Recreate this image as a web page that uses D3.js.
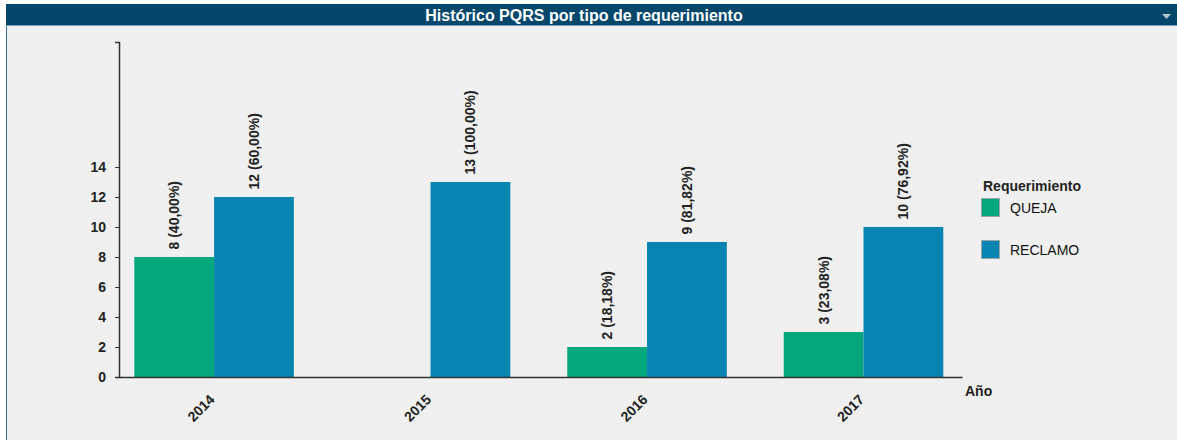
<!DOCTYPE html>
<html>
<head>
<meta charset="utf-8">
<script src="https://cdn.jsdelivr.net/npm/d3@7"></script>
<style>
  html, body { margin: 0; padding: 0; background: #ffffff; }
  svg { display: block; font-family: 'Liberation Sans', Arial, sans-serif; }
</style>
</head>
<body>
<div id="chart"></div>
<script>
// chart data
const years = ['2014', '2015', '2016', '2017'];
const seriesNames = ['QUEJA', 'RECLAMO'];
const quejaValues = [8, 0, 2, 3];
const reclamoValues = [12, 13, 9, 10];
const yTicks = [0, 2, 4, 6, 8, 10, 12, 14];
const yMax = 22.33;

const colors = { QUEJA: '#05a87d', RECLAMO: '#0884b3' };
const width = 1177;
const height = 440;

const svg = d3.select('#chart')
  .append('svg')
  .attr('width', width)
  .attr('height', height);

// panel + header
svg.append('rect')
  .attr('x', 6).attr('y', 25)
  .attr('width', width - 6).attr('height', height - 25)
  .attr('fill', '#f0f0f0');
svg.append('line')
  .attr('x1', 6.5).attr('x2', 6.5)
  .attr('y1', 4).attr('y2', height)
  .attr('stroke', '#2f6f99').attr('stroke-width', 1);
svg.append('rect')
  .attr('x', 6).attr('y', 4)
  .attr('width', width - 6).attr('height', 21)
  .attr('fill', '#03476b');
svg.append('line')
  .attr('x1', 6).attr('x2', width)
  .attr('y1', 25.5).attr('y2', 25.5)
  .attr('stroke', '#6f9cba').attr('stroke-width', 1);
svg.append('text')
  .attr('x', 584).attr('y', 15)
  .attr('text-anchor', 'middle')
  .attr('dominant-baseline', 'central')
  .attr('fill', '#ffffff')
  .attr('font-size', 16)
  .attr('font-weight', 700)
  .text('Histórico PQRS por tipo de requerimiento');
svg.append('path')
  .attr('d', 'M1162,14 L1171,14 L1166.5,19 Z')
  .attr('fill', '#b7c7d3');

// scales
const margin = { left: 119, right: 962, top: 42, bottom: 377 };
const x0 = d3.scaleBand()
  .domain(years)
  .range([margin.left, margin.right])
  .paddingInner(0.263)
  .paddingOuter(0.0786)
  .align(0.45);
const x1 = d3.scaleBand()
  .domain(seriesNames)
  .range([0, x0.bandwidth()]);
const y = d3.scaleLinear()
  .domain([0, yMax])
  .range([margin.bottom, margin.top]);

const rows = years.map((yr, i) => ({
  year: yr,
  values: [
    { key: 'QUEJA', value: quejaValues[i], total: quejaValues[i] + reclamoValues[i] },
    { key: 'RECLAMO', value: reclamoValues[i], total: quejaValues[i] + reclamoValues[i] }
  ]
}));

const fmtPct = v => v.toFixed(2).replace('.', ',') + '%';

// bars
const groups = svg.append('g').attr('class', 'bars')
  .selectAll('g')
  .data(rows)
  .join('g')
  .attr('transform', d => `translate(${x0(d.year)},0)`);

groups.selectAll('rect')
  .data(d => d.values.filter(v => v.value > 0))
  .join('rect')
  .attr('x', d => x1(d.key))
  .attr('y', d => y(d.value))
  .attr('width', x1.bandwidth())
  .attr('height', d => y(0) - y(d.value))
  .attr('fill', d => colors[d.key]);

groups.selectAll('text')
  .data(d => d.values.filter(v => v.value > 0))
  .join('text')
  .attr('transform', d => `translate(${x1(d.key) + x1.bandwidth() / 2},${y(d.value) - 7.5}) rotate(-90)`)
  .attr('dominant-baseline', 'central')
  .attr('font-size', 14)
  .attr('font-weight', 700)
  .attr('fill', '#222')
  .text(d => `${d.value} (${fmtPct(d.value / d.total * 100)})`);

// y axis
const yAxis = svg.append('g')
  .attr('transform', `translate(${margin.left},0)`)
  .call(d3.axisLeft(y).tickValues(yTicks).tickSize(4).tickPadding(9));
yAxis.select('.domain').attr('stroke', '#333').attr('stroke-width', 1.5);
yAxis.selectAll('.tick line').attr('stroke', '#333');
yAxis.selectAll('.tick text')
  .attr('font-size', 14)
  .attr('font-weight', 700)
  .attr('fill', '#222')
  .attr('font-family', "'Liberation Sans', Arial, sans-serif");

// x axis
const xAxis = svg.append('g')
  .attr('transform', `translate(0,${margin.bottom})`)
  .call(d3.axisBottom(x0).tickSize(0).tickSizeOuter(0));
xAxis.select('.domain').attr('stroke', '#333').attr('stroke-width', 1.5);
xAxis.selectAll('.tick text')
  .attr('font-size', 14)
  .attr('font-weight', 700)
  .attr('fill', '#222')
  .attr('font-family', "'Liberation Sans', Arial, sans-serif")
  .attr('text-anchor', 'end')
  .attr('dy', null)
  .attr('y', 0)
  .attr('transform', 'translate(-2,20) rotate(-45)')
  .attr('dominant-baseline', 'central');

svg.append('text')
  .attr('x', 965).attr('y', 391)
  .attr('dominant-baseline', 'central')
  .attr('font-size', 14)
  .attr('font-weight', 700)
  .attr('fill', '#222')
  .text('Año');

// legend
const legend = svg.append('g').attr('transform', 'translate(981,186)');
legend.append('text')
  .attr('x', 2).attr('y', 0)
  .attr('dominant-baseline', 'central')
  .attr('font-size', 14)
  .attr('font-weight', 700)
  .attr('fill', '#222')
  .text('Requerimiento');
const items = legend.selectAll('.item')
  .data(seriesNames)
  .join('g')
  .attr('class', 'item')
  .attr('transform', (d, i) => `translate(0,${12 + i * 42})`);
items.append('rect')
  .attr('x', 0.5).attr('y', 0.5)
  .attr('width', 18).attr('height', 18)
  .attr('fill', d => colors[d])
  .attr('stroke', '#9aa5ab');
items.append('text')
  .attr('x', 29).attr('y', 10)
  .attr('dominant-baseline', 'central')
  .attr('font-size', 14)
  .attr('fill', '#111')
  .text(d => d);
</script>
</body>
</html>
